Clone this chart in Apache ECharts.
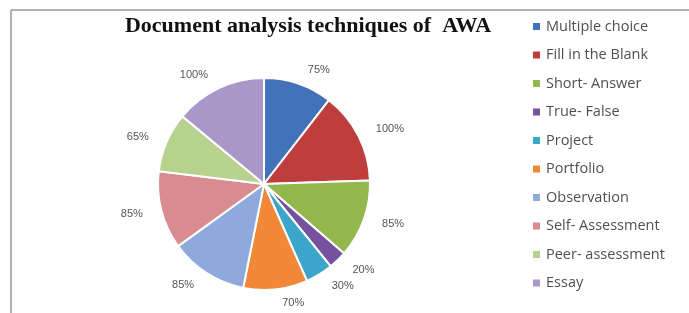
<!DOCTYPE html>
<html><head><meta charset="utf-8">
<script src="https://cdn.jsdelivr.net/npm/echarts@6/dist/echarts.min.js"></script>
<style>html,body{margin:0;padding:0;background:#fff}#c{width:689px;height:313px}</style>
</head><body><div id="c"></div>
<script>
const categories = ["Multiple choice","Fill in the Blank","Short- Answer","True- False","Project","Portfolio","Observation","Self- Assessment","Peer- assessment","Essay"];
const values = [75,100,85,20,30,70,85,85,65,100];
const colors = ["#4472B8","#BE3E3E","#93B74C","#7452A0","#3BA5CA","#F08838","#8EA9DB","#D98C8F","#B7D18F","#A997C8"];

const chart = echarts.init(document.getElementById('c'));
chart.setOption({
  animation:false,
  backgroundColor:'#fff',
  color: colors,
  title:{text:'Document analysis techniques of  AWA', left:303, top:10, textAlign:'center',
    textStyle:{fontFamily:'Liberation Serif', fontWeight:'bold', fontSize:22, color:'#111'}},
  graphic:[
    {type:'line', shape:{x1:11,y1:10,x2:689,y2:10}, style:{stroke:'#999',lineWidth:1.5}},
    {type:'line', shape:{x1:11,y1:10,x2:11,y2:313}, style:{stroke:'#999',lineWidth:1.5}}
  ],
  legend:{orient:'vertical', left:526, top:14, itemWidth:9, itemHeight:9, itemGap:13.5, icon:'rect',
    textStyle:{fontFamily:'Open Sans', fontSize:14.5, color:'#505050'}, data:categories},
  series:[{
    type:'pie', center:[264,184], radius:[0,106], startAngle:90, clockwise:true,
    itemStyle:{borderColor:'#fff', borderWidth:2},
    label:{show:true, position:'outside', formatter:'{c}%', fontFamily:'Liberation Sans', fontSize:11, color:'#555'},
    labelLine:{show:false, length:14, length2:0},
    data: categories.map((n,i)=>({name:n, value:values[i]}))
  }]
});
</script></body></html>
